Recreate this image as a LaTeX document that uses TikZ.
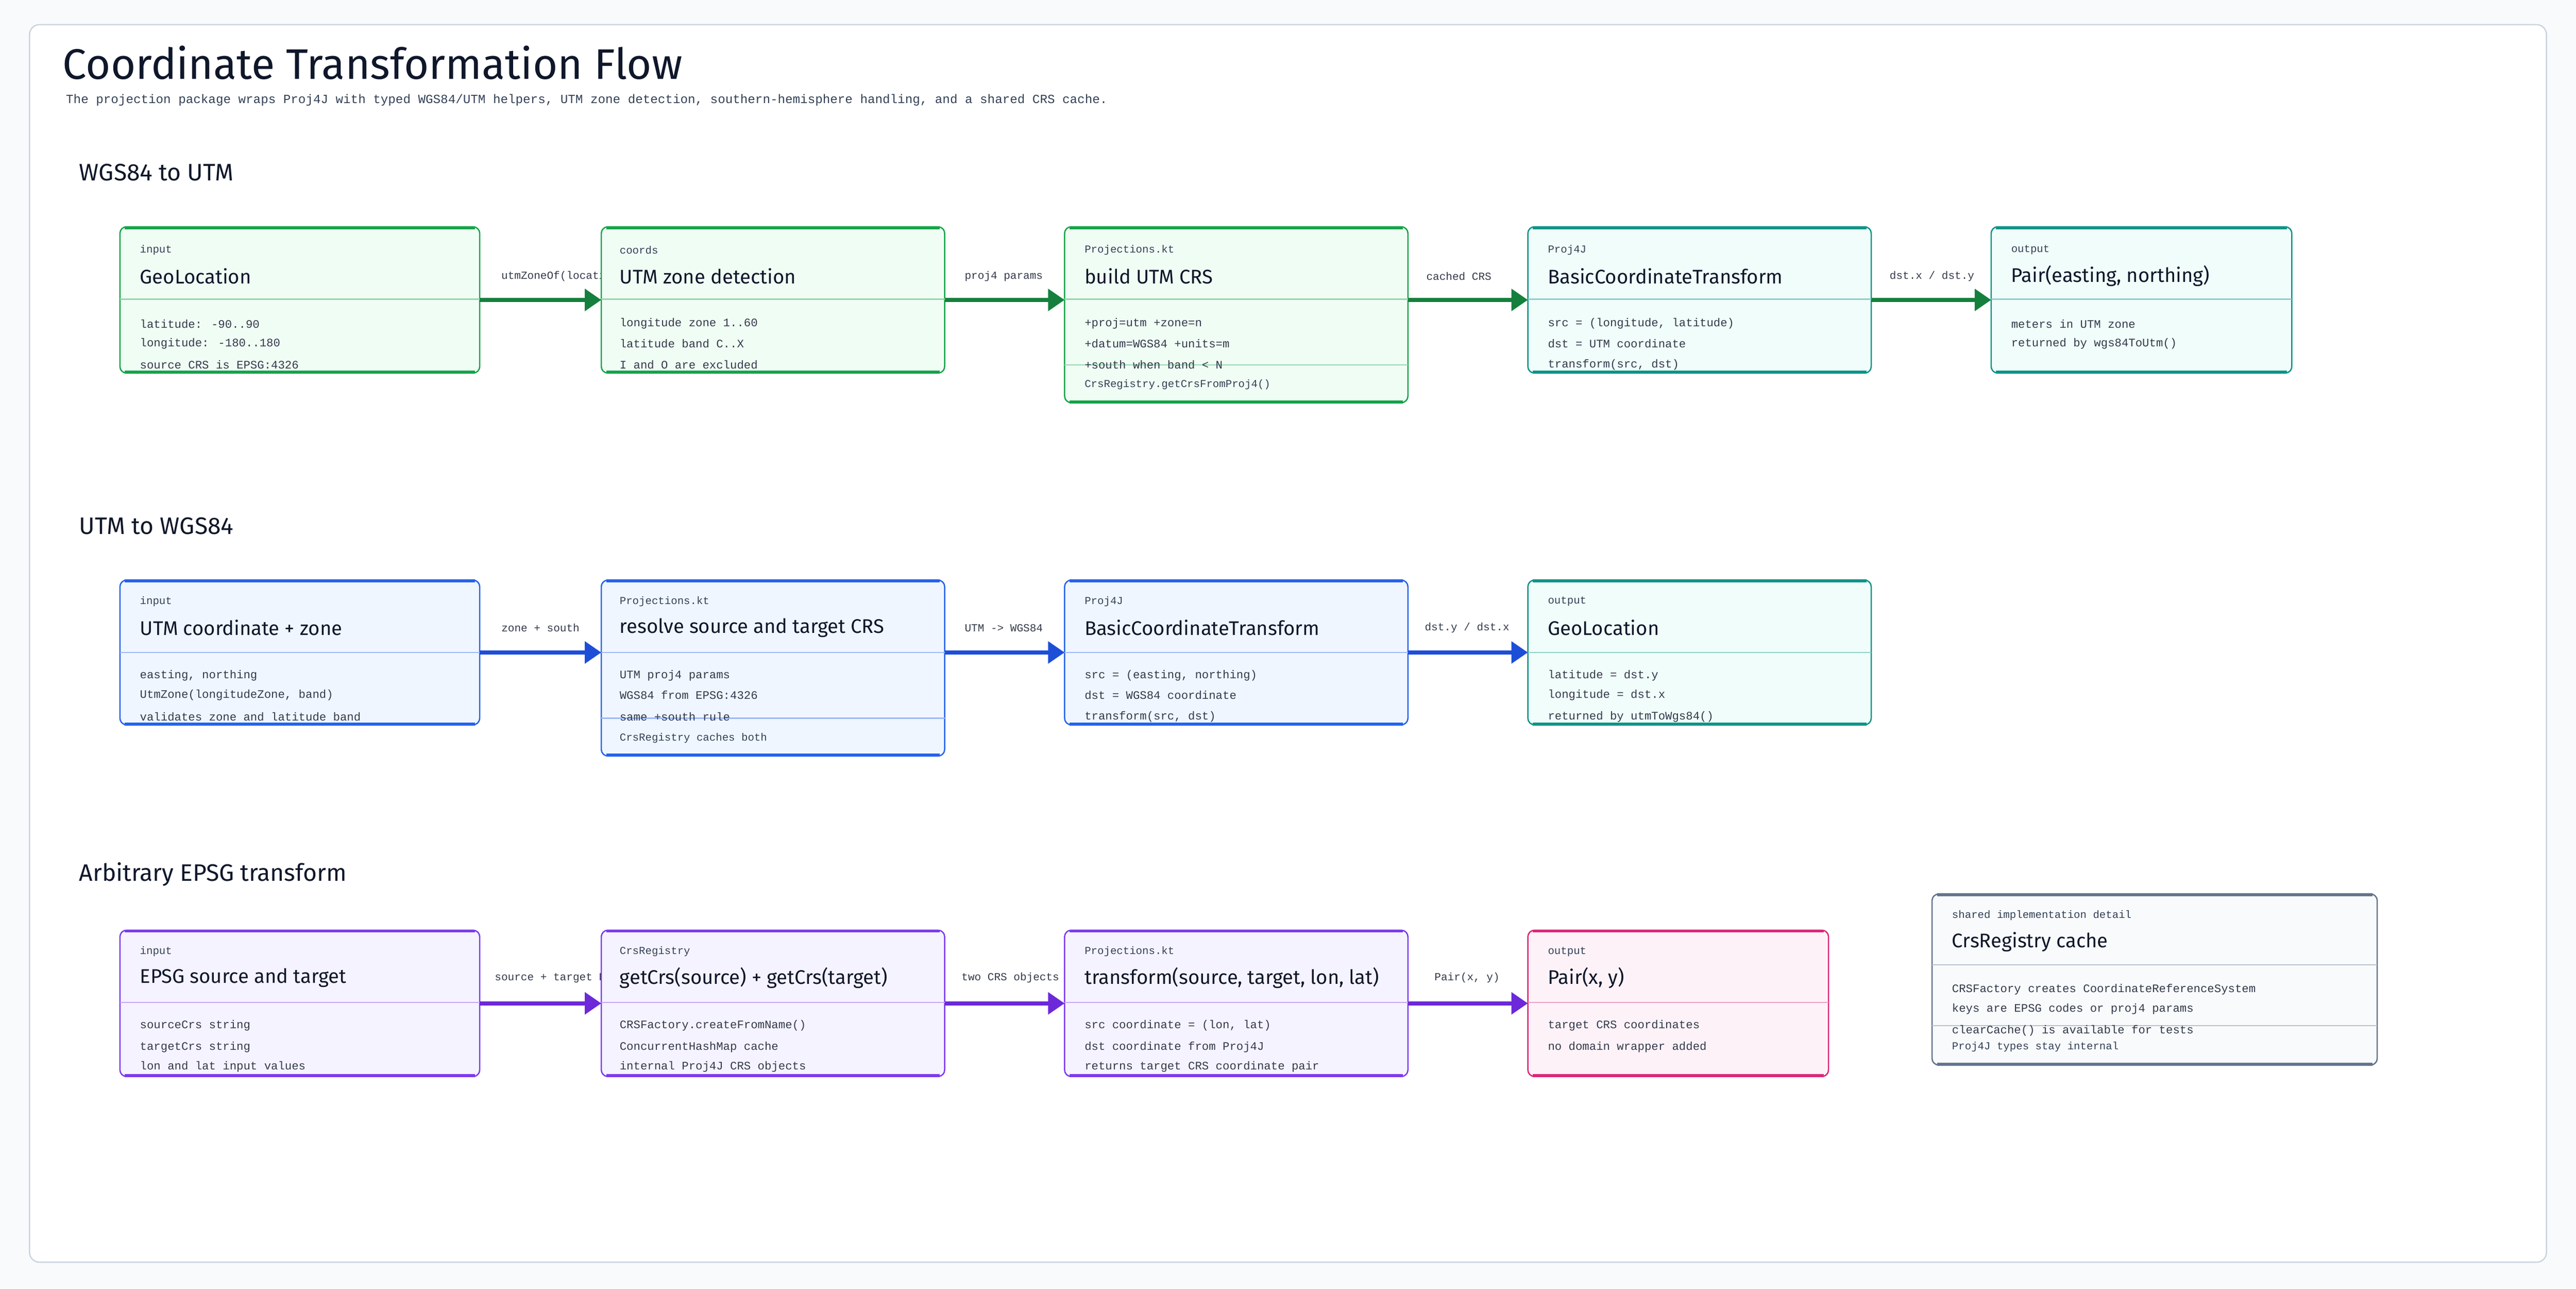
\documentclass[tikz,border=0pt]{standalone}
\usepackage{fontspec}
\setmainfont{Fira Sans}
\newfontfamily\monof{Liberation Mono}
\usetikzlibrary{arrows.meta}
\definecolor{bg}{HTML}{F8FAFC}
\definecolor{frame}{HTML}{CBD5E1}
\definecolor{ink}{HTML}{0F172A}
\definecolor{sub}{HTML}{334155}
\definecolor{gB}{HTML}{16A34A}\definecolor{gF}{HTML}{F0FDF4}\definecolor{gA}{HTML}{15803D}
\definecolor{tB}{HTML}{0D9488}\definecolor{tF}{HTML}{F0FDFA}
\definecolor{bB}{HTML}{2563EB}\definecolor{bF}{HTML}{EFF6FF}\definecolor{bA}{HTML}{1D4ED8}
\definecolor{pB}{HTML}{7C3AED}\definecolor{pF}{HTML}{F5F3FF}\definecolor{pA}{HTML}{6D28D9}
\definecolor{kB}{HTML}{DB2777}\definecolor{kF}{HTML}{FDF2F8}
\definecolor{sB}{HTML}{64748B}\definecolor{sF}{HTML}{F8FAFC}
\newcommand\flowbox[7]{%
 \node[draw=#6, fill=#7, rounded corners=4pt, line width=0.8pt, anchor=north west,
   minimum width=#4pt, minimum height=#5pt, inner sep=0pt, outer sep=0pt] (#1) at (#2,#3) {};
 \draw[#6, line width=1.8pt] ([xshift=3pt,yshift=-0.5pt]#1.north west) -- ([xshift=-3pt,yshift=-0.5pt]#1.north east);
 \draw[#6, line width=1.8pt] ([xshift=3pt,yshift=0.5pt]#1.south west) -- ([xshift=-3pt,yshift=0.5pt]#1.south east);}
\newcommand\divl[4]{\draw[#4!45, line width=0.8pt] (#1,#3) -- (#2,#3);}
\tikzset{
 lab/.style={anchor=west, inner sep=0pt, text=sub, font=\monof\fontsize{6.5}{7}\selectfont},
 ttl/.style={anchor=west, inner sep=0pt, text=ink, font=\fontsize{12}{14}\selectfont},
 body/.style={anchor=west, inner sep=0pt, text=ink!85, font=\monof\fontsize{7}{8}\selectfont},
 elab/.style={inner sep=0pt, text=ink!85, font=\monof\fontsize{6.6}{8}\selectfont},
 arr/.style={line width=2.4pt, -{Triangle[length=10pt,width=13pt]}},
 sec/.style={anchor=west, inner sep=0pt, text=ink, font=\fontsize{14.5}{16}\selectfont},
}
\begin{document}
\begin{tikzpicture}[x=1pt,y=-1pt]
\fill[bg] (0,0) rectangle (1568,784);
\useasboundingbox (0,0) rectangle (1568,784);
\draw[frame, fill=white, rounded corners=6pt, line width=0.8pt] (18,15) rectangle (1550,768);
\node[anchor=west, inner sep=0pt, text=ink, font=\fontsize{26}{30}\selectfont] (title) at (38,38) {Coordinate Transformation Flow};
\node[anchor=west, inner sep=0pt, text=sub, font=\monof\fontsize{7.6}{9}\selectfont] (subt) at (40,61) {The projection package wraps Proj4J with typed WGS84/UTM helpers, UTM zone detection, southern-hemisphere handling, and a shared CRS cache.};
\node[sec] (s1) at (48,105) {WGS84 to UTM};
\node[sec] (s2) at (48,320) {UTM to WGS84};
\node[sec] (s3) at (48,532) {Arbitrary EPSG transform};

% edge labels (drawn first so boxes cover overflow)
\node[elab, anchor=west] (l1) at (305,168) {utmZoneOf(location)};
\node[elab] (l2) at (611,168) {proj4 params};
\node[elab] (l3) at (888,168) {cached CRS};
\node[elab] (l4) at (1176,168) {dst.x / dst.y};
\node[elab] (l5) at (329,382) {zone + south};
\node[elab] (l6) at (611,382) {UTM -> WGS84};
\node[elab] (l7) at (893,382) {dst.y / dst.x};
\node[elab, anchor=west] (l8) at (301,595) {source + target EPSG};
\node[elab] (l9) at (615,595) {two CRS objects};
\node[elab] (l10) at (893,595) {Pair(x, y)};

% Row 1
\flowbox{a1}{73}{138}{219}{89}{gB}{gF}
\flowbox{a2}{366}{138}{209}{89}{gB}{gF}
\flowbox{a3}{648}{138}{209}{107}{gB}{gF}
\flowbox{a4}{930}{138}{209}{89}{tB}{tF}
\flowbox{a5}{1212}{138}{183}{89}{tB}{tF}
\divl{73}{292}{182}{gB}\divl{366}{575}{182}{gB}\divl{648}{857}{182}{gB}\divl{648}{857}{222}{gB}
\divl{930}{1139}{182}{tB}\divl{1212}{1395}{182}{tB}
\node[lab] at (85,152) {input}; \node[ttl] at (85,168) {GeoLocation};
\node[body] at (85,197) {latitude: -90..90}; \node[body] at (85,209) {longitude: -180..180}; \node[body] at (85,222) {source CRS is EPSG:4326};
\node[lab] at (377,152) {coords}; \node[ttl] at (377,168) {UTM zone detection};
\node[body] at (377,197) {longitude zone 1..60}; \node[body] at (377,209) {latitude band C..X}; \node[body] at (377,222) {I and O are excluded};
\node[lab] at (660,152) {Projections.kt}; \node[ttl] at (660,168) {build UTM CRS};
\node[body] at (660,197) {+proj=utm +zone=n}; \node[body] at (660,209) {+datum=WGS84 +units=m}; \node[body] at (660,222) {+south when band < N};
\node[lab] at (660,234) {CrsRegistry.getCrsFromProj4()};
\node[lab] at (942,152) {Proj4J}; \node[ttl] at (942,168) {BasicCoordinateTransform};
\node[body] at (942,197) {src = (longitude, latitude)}; \node[body] at (942,209) {dst = UTM coordinate}; \node[body] at (942,222) {transform(src, dst)};
\node[lab] at (1224,152) {output}; \node[ttl] at (1224,168) {Pair(easting, northing)};
\node[body] at (1224,197) {meters in UTM zone}; \node[body] at (1224,209) {returned by wgs84ToUtm()};
\draw[arr, gA] (a1.east) -- (a2.west);
\draw[arr, gA] (a2.east) -- (a2.east -| a3.west);
\draw[arr, gA] (a4.west -| a3.east) -- (a4.west);
\draw[arr, gA] (a4.east) -- (a5.west);

% Row 2
\flowbox{b1}{73}{353}{219}{88}{bB}{bF}
\flowbox{b2}{366}{353}{209}{107}{bB}{bF}
\flowbox{b3}{648}{353}{209}{88}{bB}{bF}
\flowbox{b4}{930}{353}{209}{88}{tB}{tF}
\divl{73}{292}{397}{bB}\divl{366}{575}{397}{bB}\divl{366}{575}{437}{bB}\divl{648}{857}{397}{bB}\divl{930}{1139}{397}{tB}
\node[lab] at (85,366) {input}; \node[ttl] at (85,382) {UTM coordinate + zone};
\node[body] at (85,411) {easting, northing}; \node[body] at (85,423) {UtmZone(longitudeZone, band)}; \node[body] at (85,436) {validates zone and latitude band};
\node[lab] at (377,366) {Projections.kt}; \node[ttl] at (377,382) {resolve source and target CRS};
\node[body] at (377,411) {UTM proj4 params}; \node[body] at (377,423) {WGS84 from EPSG:4326}; \node[body] at (377,436) {same +south rule};
\node[lab] at (377,449) {CrsRegistry caches both};
\node[lab] at (660,366) {Proj4J}; \node[ttl] at (660,382) {BasicCoordinateTransform};
\node[body] at (660,411) {src = (easting, northing)}; \node[body] at (660,423) {dst = WGS84 coordinate}; \node[body] at (660,436) {transform(src, dst)};
\node[lab] at (942,366) {output}; \node[ttl] at (942,382) {GeoLocation};
\node[body] at (942,411) {latitude = dst.y}; \node[body] at (942,423) {longitude = dst.x}; \node[body] at (942,436) {returned by utmToWgs84()};
\draw[arr, bA] (b1.east) -- (b1.east -| b2.west);
\draw[arr, bA] (b3.west -| b2.east) -- (b3.west);
\draw[arr, bA] (b3.east) -- (b4.west);

% Row 3
\flowbox{c1}{73}{566}{219}{89}{pB}{pF}
\flowbox{c2}{366}{566}{209}{89}{pB}{pF}
\flowbox{c3}{648}{566}{209}{89}{pB}{pF}
\flowbox{c4}{930}{566}{183}{89}{kB}{kF}
\flowbox{c5}{1176}{544}{271}{104}{sB}{sF}
\divl{73}{292}{610}{pB}\divl{366}{575}{610}{pB}\divl{648}{857}{610}{pB}\divl{930}{1113}{610}{kB}
\divl{1176}{1447}{587}{sB}\divl{1176}{1447}{624}{sB}
\node[lab] at (85,579) {input}; \node[ttl] at (85,595) {EPSG source and target};
\node[body] at (85,624) {sourceCrs string}; \node[body] at (85,637) {targetCrs string}; \node[body] at (85,649) {lon and lat input values};
\node[lab] at (377,579) {CrsRegistry}; \node[ttl] at (377,595) {getCrs(source) + getCrs(target)};
\node[body] at (377,624) {CRSFactory.createFromName()}; \node[body] at (377,637) {ConcurrentHashMap cache}; \node[body] at (377,649) {internal Proj4J CRS objects};
\node[lab] at (660,579) {Projections.kt}; \node[ttl] at (660,595) {transform(source, target, lon, lat)};
\node[body] at (660,624) {src coordinate = (lon, lat)}; \node[body] at (660,637) {dst coordinate from Proj4J}; \node[body] at (660,649) {returns target CRS coordinate pair};
\node[lab] at (942,579) {output}; \node[ttl] at (942,595) {Pair(x, y)};
\node[body] at (942,624) {target CRS coordinates}; \node[body] at (942,637) {no domain wrapper added};
\node[lab] at (1188,557) {shared implementation detail}; \node[ttl] at (1188,573) {CrsRegistry cache};
\node[body] at (1188,602) {CRSFactory creates CoordinateReferenceSystem}; \node[body] at (1188,614) {keys are EPSG codes or proj4 params}; \node[body] at (1188,627) {clearCache() is available for tests};
\node[lab] at (1188,637) {Proj4J types stay internal};
\draw[arr, pA] (c1.east) -- (c2.west);
\draw[arr, pA] (c2.east) -- (c3.west);
\draw[arr, pA] (c3.east) -- (c4.west);
\end{tikzpicture}
\end{document}
